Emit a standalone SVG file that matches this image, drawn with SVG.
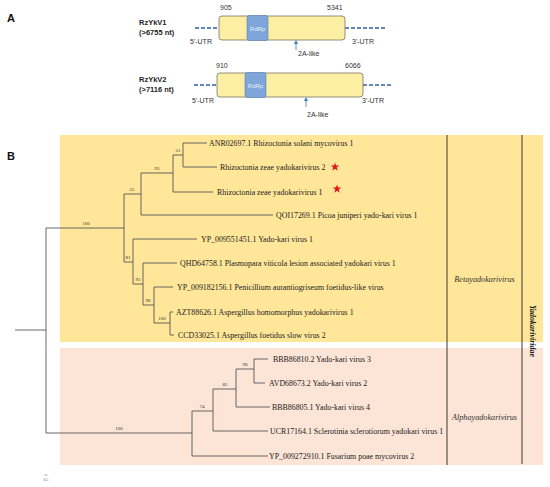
<svg xmlns="http://www.w3.org/2000/svg" width="550" height="487" viewBox="0 0 550 487">
<style>
.sa{font-family:"Liberation Sans",Arial,sans-serif;fill:#333;font-size:7px}
.sab{font-family:"Liberation Sans",Arial,sans-serif;fill:#222;font-size:7.5px;font-weight:bold}
.pl{font-family:"Liberation Sans",Arial,sans-serif;fill:#111;font-size:11px;font-weight:bold}
.orf{fill:#FCEFA4;stroke:#7a7460;stroke-width:0.8}
.rdrp{fill:#7EA6DA;stroke:#5C82B4;stroke-width:0.6}
.rdt{font-family:"Liberation Sans",Arial,sans-serif;fill:#EAF1FB;font-size:6px}
.utr{stroke:#2F5F9E;stroke-width:1.5;stroke-dasharray:4 2;fill:none}
.ar{stroke:#3E7CC0;stroke-width:0.8;fill:none}
.br{stroke:#585858;stroke-width:0.9;fill:none}
.lf{font-family:"Liberation Serif","Times New Roman",serif;font-size:7.9px;fill:#222}
.bs{font-family:"Liberation Serif","Times New Roman",serif;font-size:5px;fill:#333;text-anchor:middle}
.cl{font-family:"Liberation Serif","Times New Roman",serif;font-size:8.2px;font-style:italic;fill:#333;text-anchor:middle}
.fam{font-family:"Liberation Serif","Times New Roman",serif;font-size:8px;font-style:italic;font-weight:bold;fill:#222;text-anchor:middle}
.dv{stroke:#3a3a2a;stroke-width:1;fill:none}
</style>
<defs>
<marker id="ah" markerWidth="4" markerHeight="4" refX="2" refY="2" orient="auto" markerUnits="userSpaceOnUse">
<path d="M0,0 L4,2 L0,4 z" fill="#3E7CC0"/>
</marker>
<polygon id="star" points="0,-4.5 1.06,-1.46 4.28,-1.39 1.71,0.56 2.65,3.64 0,1.8 -2.65,3.64 -1.71,0.56 -4.28,-1.39 -1.06,-1.46" fill="#E8141B"/>
</defs>
<rect width="550" height="487" fill="#fff"/>

<!-- Panel A -->
<text class="pl" x="7" y="22">A</text>
<g id="rzykv1">
<text class="sab" x="139" y="25">RzYkV1</text>
<text class="sab" x="139" y="35">(&gt;6755 nt)</text>
<line class="utr" x1="195" y1="28" x2="219" y2="28"/>
<line class="utr" x1="345" y1="28" x2="387" y2="28"/>
<rect class="orf" x="219" y="16" width="126" height="24" rx="3"/>
<rect class="rdrp" x="247" y="15.5" width="21" height="25" rx="2"/>
<text class="rdt" x="257.5" y="30.5" text-anchor="middle">RdRp</text>
<text class="sa" x="220" y="10">905</text>
<text class="sa" x="327" y="10">5341</text>
<text class="sa" x="190" y="44">5'-UTR</text>
<text class="sa" x="352" y="44">3'-UTR</text>
<line class="ar" x1="296" y1="50" x2="296" y2="42" marker-end="url(#ah)"/>
<text class="sa" x="298" y="56">2A-like</text>
</g>
<g id="rzykv2">
<text class="sab" x="139" y="82">RzYkV2</text>
<text class="sab" x="139" y="92">(&gt;7116 nt)</text>
<line class="utr" x1="194" y1="85" x2="217" y2="85"/>
<line class="utr" x1="363" y1="85" x2="393" y2="85"/>
<rect class="orf" x="217" y="73" width="146" height="24" rx="3"/>
<rect class="rdrp" x="245" y="72.5" width="21" height="25" rx="2"/>
<text class="rdt" x="255.5" y="87.5" text-anchor="middle">RdRp</text>
<text class="sa" x="216" y="68">910</text>
<text class="sa" x="345" y="68">6066</text>
<text class="sa" x="192" y="103">5'-UTR</text>
<text class="sa" x="362" y="103">3'-UTR</text>
<line class="ar" x1="306" y1="107" x2="306" y2="99" marker-end="url(#ah)"/>
<text class="sa" x="307" y="117">2A-like</text>
</g>

<!-- Panel B -->
<text class="pl" x="7" y="160">B</text>
<rect x="60" y="135" width="483" height="207" fill="#FFE699"/>
<rect x="60" y="348" width="483" height="117" fill="#FCE4D6"/>
<line class="dv" x1="447" y1="135" x2="447" y2="465"/>
<line class="dv" x1="522" y1="135" x2="522" y2="464"/>
<text class="cl" x="484.5" y="282">Betayadokarivirus</text>
<text class="cl" x="484.5" y="420">Alphayadokarivirus</text>
<text class="fam" transform="translate(529.5,331) rotate(90)">Yadokariviridae</text>

<g id="connectors">
<path class="br" d="M15,330 H46 M46,228 V433
M46,228 H124 M124,194 V262
M124,194 H141 M141,173 V215
M141,173 H173 M173,155 V192
M173,155 H183 M183,143 V167
M183,143 H207 M183,167 H217 M173,192 H213 M141,215 H273
M124,262 H133 M133,239 V284
M133,239 H197 M133,284 H143 M143,263 V305
M143,263 H177 M143,305 H154 M154,287 V323
M154,287 H173 M154,323 H170 M170,312 V335
M170,312 H173 M170,335 H174
M46,433 H192 M192,411 V456
M192,411 H213 M213,389 V431
M213,389 H236 M236,369 V407
M236,369 H254 M254,359 V383
M254,359 H268 M254,383 H265 M236,407 H270 M213,431 H268 M192,456 H268"/>
<text class="bs" x="86" y="225">100</text>
<text class="bs" x="132" y="191">55</text>
<text class="bs" x="157" y="170">95</text>
<text class="bs" x="178" y="152">51</text>
<text class="bs" x="128" y="259">81</text>
<text class="bs" x="138" y="281">95</text>
<text class="bs" x="148" y="302">98</text>
<text class="bs" x="162" y="320">100</text>
<text class="bs" x="119" y="430">100</text>
<text class="bs" x="202" y="408">74</text>
<text class="bs" x="225" y="386">85</text>
<text class="bs" x="245" y="366">98</text>
</g>

<g id="leaf-anr"><text class="lf" x="209" y="145.5">ANR02697.1 Rhizoctonia solani mycovirus 1</text></g>
<g id="leaf-rzykv2"><text class="lf" x="220" y="169.5">Rhizoctonia zeae yadokarivirus 2</text><use href="#star" x="335" y="167"/></g>
<g id="leaf-rzykv1"><text class="lf" x="217" y="194.5">Rhizoctonia zeae yadokarivirus 1</text><use href="#star" x="337" y="189"/></g>
<g id="leaf-qoi"><text class="lf" x="276" y="217.5">QOI17269.1 Picoa juniperi yado-kari virus 1</text></g>
<g id="leaf-yp551"><text class="lf" x="201" y="241.5">YP_009551451.1 Yado-kari virus 1</text></g>
<g id="leaf-qhd"><text class="lf" x="180" y="265.5">QHD64758.1 Plasmopara viticola lesion associated yadokari virus 1</text></g>
<g id="leaf-yp182"><text class="lf" x="177" y="289.5">YP_009182156.1 Penicillium aurantiogriseum foetidus-like virus</text></g>
<g id="leaf-azt"><text class="lf" x="176" y="314.5">AZT88626.1 Aspergillus homomorphus yadokarivirus 1</text></g>
<g id="leaf-ccd"><text class="lf" x="178" y="337.5">CCD33025.1 Aspergillus foetidus slow virus 2</text></g>
<g id="leaf-bbb810"><text class="lf" x="273" y="361.5">BBB86810.2 Yado-kari virus 3</text></g>
<g id="leaf-avd"><text class="lf" x="269" y="385.5">AVD68673.2 Yado-kari virus 2</text></g>
<g id="leaf-bbb805"><text class="lf" x="272" y="409.5">BBB86805.1 Yado-kari virus 4</text></g>
<g id="leaf-ucr"><text class="lf" x="270" y="433.5">UCR17164.1 Sclerotinia sclerotiorum yadokari virus 1</text></g>
<g id="leaf-yp272"><text class="lf" x="269" y="458.5">YP_009272910.1 Fusarium poae mycovirus 2</text></g>

<g id="scale">
<line x1="44.5" y1="475" x2="47.5" y2="475" stroke="#777" stroke-width="0.6"/>
<text x="46" y="481" font-family="Liberation Serif,serif" font-size="3.5" fill="#555" text-anchor="middle">0.5</text>
</g>
</svg>
